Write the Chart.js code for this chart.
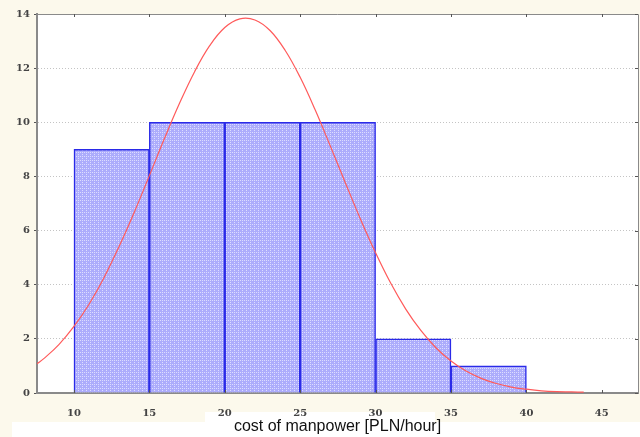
<!DOCTYPE html>
<html>
<head>
<meta charset="utf-8">
<script src="https://cdn.jsdelivr.net/npm/chart.js"></script>
<style>
  html, body { margin: 0; padding: 0; background: #fcf9ec; }
  #wrap { width: 640px; height: 437px; }
</style>
</head>
<body>
<div id="wrap"><canvas id="chart" width="640" height="437"></canvas></div>
<script>
// histogram classes (centres, width 5) and counts
const binCentres = [12.5, 17.5, 22.5, 27.5, 32.5, 37.5];
const binCounts = [9, 10, 10, 10, 2, 1];

// fitted curve
const curveX = [7.55, 8, 9, 10, 11, 12, 13, 14, 15, 16, 17, 18, 19, 20, 21, 22, 23, 24, 25, 26, 27, 28, 29, 30, 31, 32, 33, 34, 35, 36, 37, 38, 39, 40, 41, 42, 43, 43.8];
const curveY = [1.08, 1.27, 1.79, 2.46, 3.28, 4.27, 5.42, 6.68, 8.03, 9.4, 10.7, 11.87, 12.83, 13.5, 13.82, 13.78, 13.39, 12.66, 11.66, 10.45, 9.12, 7.76, 6.42, 5.18, 4.06, 3.1, 2.31, 1.67, 1.18, 0.81, 0.54, 0.35, 0.22, 0.14, 0.08, 0.05, 0.04, 0.03];

const xTicks = [10, 15, 20, 25, 30, 35, 40, 45];
const yTicks = [0, 2, 4, 6, 8, 10, 12, 14];
const xTitle = 'cost of manpower [PLN/hour]';

// dotted fill for the bars
function dotPattern() {
    const c = document.createElement('canvas');
    c.width = 4; c.height = 4;
    const g = c.getContext('2d');
    g.fillStyle = '#acacfc';
    g.fillRect(0, 0, 4, 4);
    g.fillStyle = '#dcdcff';
    g.fillRect(0, 0, 1, 1);
    g.fillRect(2, 2, 1, 1);
    g.fillRect(2, 0, 1, 1);
    return g.createPattern(c, 'repeat');
}

const frame = {
    id: 'frame',
    beforeDraw(chart) {
        const { ctx, chartArea: a } = chart;
        ctx.save();
        ctx.fillStyle = '#fcf9ec';
        ctx.fillRect(0, 0, chart.width, chart.height);
        ctx.fillStyle = '#ffffff';
        ctx.fillRect(12, 422, chart.width - 12, chart.height - 422);
        ctx.fillRect(a.left, a.top, a.right - a.left, a.bottom - a.top);
        ctx.fillRect(205, 412, 230, 25);
        ctx.restore();
    },
    afterDraw(chart) {
        const { ctx, chartArea: a, scales } = chart;
        ctx.save();
        ctx.strokeStyle = '#8a8a8a';
        ctx.lineWidth = 1;
        ctx.beginPath();
        ctx.moveTo(a.left, a.top + 0.5);
        ctx.lineTo(a.right + 0.5, a.top + 0.5);
        ctx.lineTo(a.right + 0.5, a.bottom);
        ctx.stroke();
        // small tick marks on top and bottom edges
        ctx.strokeStyle = '#555';
        xTicks.forEach(v => {
            const px = Math.round(scales.x.getPixelForValue(v)) + 0.5;
            ctx.beginPath();
            ctx.moveTo(px, a.top);
            ctx.lineTo(px, a.top + 3);
            ctx.moveTo(px, a.bottom);
            ctx.lineTo(px, a.bottom - 3);
            ctx.stroke();
        });
        yTicks.forEach(v => {
            const py = Math.round(scales.y.getPixelForValue(v)) + 0.5;
            ctx.beginPath();
            ctx.moveTo(a.right, py);
            ctx.lineTo(a.right - 3, py);
            ctx.stroke();
        });
        ctx.restore();
    }
};

new Chart(document.getElementById('chart'), {
    data: {
        datasets: [
            {
                type: 'line',
                data: curveX.map((x, i) => ({ x: x, y: curveY[i] })),
                borderColor: '#ff5a5a',
                borderWidth: 1.2,
                pointRadius: 0,
                tension: 0.4,
                fill: false,
                order: 0
            },
            {
                type: 'bar',
                data: binCentres.map((x, i) => ({ x: x, y: binCounts[i] })),
                backgroundColor: dotPattern(),
                borderColor: '#2a2ae8',
                borderWidth: 1.5,
                borderSkipped: 'bottom',
                barPercentage: 1,
                categoryPercentage: 1,
                order: 1
            }
        ]
    },
    options: {
        responsive: false,
        animation: false,
        layout: { padding: { top: 14, right: 2, left: 0, bottom: 0 } },
        plugins: { legend: { display: false }, tooltip: { enabled: false } },
        scales: {
            x: {
                type: 'linear',
                min: 7.55,
                max: 47.4,
                offset: false,
                afterBuildTicks: s => { s.ticks = xTicks.map(v => ({ value: v })); },
                afterFit: s => { s.height = 44; },
                grid: { display: false },
                border: { color: '#8a8a8a', width: 2 },
                ticks: {
                    color: '#444',
                    padding: 6,
                    maxRotation: 0,
                    font: { family: 'DejaVu Serif', size: 10, weight: 'bold' }
                },
                title: {
                    display: true,
                    text: xTitle,
                    color: '#111',
                    padding: { top: 0, bottom: 1 },
                    font: { family: 'Liberation Sans', size: 16 }
                }
            },
            y: {
                min: 0,
                max: 14,
                afterBuildTicks: s => { s.ticks = yTicks.map(v => ({ value: v })); },
                afterFit: s => { s.width = 37; },
                grid: {
                    color: '#c4c4c4',
                    tickColor: '#555',
                    tickLength: 3,
                    tickBorderDash: [],
                    drawOnChartArea: true
                },
                border: { color: '#8a8a8a', width: 2, dash: [1, 2] },
                ticks: {
                    color: '#444',
                    padding: 4,
                    font: { family: 'DejaVu Serif', size: 10, weight: 'bold' }
                }
            }
        }
    },
    plugins: [frame]
});
</script>
</body>
</html>
